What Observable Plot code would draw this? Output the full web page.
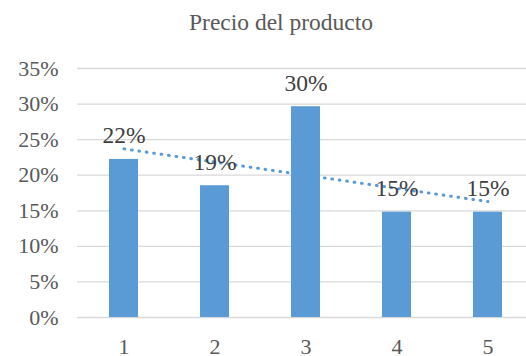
<!DOCTYPE html>
<html>
<head>
<meta charset="utf-8">
<script src="https://cdn.jsdelivr.net/npm/d3@7"></script>
<script src="https://cdn.jsdelivr.net/npm/@observablehq/plot@0.6"></script>
<style>
  html, body { margin: 0; padding: 0; background: #fff; overflow: hidden; }
  #chart svg { display: block; }
  #chart svg, #chart svg text { font-family: "Liberation Serif", "Times New Roman", serif; }
</style>
</head>
<body>
<div id="chart"></div>
<script>
// Product price share by period
const categories = ["1", "2", "3", "4", "5"];
const shares = [0.2222, 0.1852, 0.2963, 0.1481, 0.1481];
const yTicks = [0, 0.05, 0.10, 0.15, 0.20, 0.25, 0.30, 0.35];
const titleText = "Precio del producto";

const data = categories.map((c, i) => ({cat: c, value: shares[i]}));

// Linear trendline (least squares over the period index)
const xs = categories.map((_, i) => i + 1);
const mx = d3.mean(xs), my = d3.mean(shares);
const slope = d3.sum(xs, (x, i) => (x - mx) * (shares[i] - my)) / d3.sum(xs, x => (x - mx) ** 2);
const trend = categories.map((c, i) => ({cat: c, y: my + slope * (xs[i] - mx)}));

const pct = d3.format(".0%");
const blue = "#5b9bd5";
const serif = "Liberation Serif, Times New Roman, serif";

const chart = Plot.plot({
  width: 526,
  height: 356,
  marginLeft: 77,
  marginRight: 0,
  marginTop: 68,
  marginBottom: 39,
  style: {fontFamily: serif, fontSize: "22px", color: "#595959", background: "#fff", overflow: "hidden"},
  x: {domain: categories, range: [77, 534.5], paddingInner: 0.683, paddingOuter: 0.3415, align: 0.5},
  y: {domain: [0, 0.35]},
  marks: [
    Plot.gridY(yTicks, {stroke: "#d9d9d9", strokeOpacity: 1, strokeWidth: 1.3}),
    Plot.axisY({ticks: yTicks, tickFormat: pct, tickSize: 0, tickPadding: 19, label: null, fontSize: 22, fill: "#595959"}),
    Plot.axisX({tickSize: 0, tickPadding: 21, label: null, fontSize: 22, fill: "#595959"}),
    Plot.barY(data, {x: "cat", y: "value", fill: blue}),
    Plot.line(trend, {x: "cat", y: "y", stroke: blue, strokeWidth: 3, strokeDasharray: "0.75,6.75", strokeLinecap: "round"}),
    Plot.text(data, {x: "cat", y: "value", text: d => pct(d.value), dy: -16, lineAnchor: "bottom", fontSize: 23.5, fill: "#404040"})
  ]
});

const svg = d3.select(chart).attr("font-family", serif).style("font-family", serif);

svg.append("text")
  .attr("x", 281)
  .attr("y", 30)
  .attr("text-anchor", "middle")
  .attr("font-family", serif)
  .attr("font-size", 23.5)
  .attr("fill", "#595959")
  .text(titleText);

document.getElementById("chart").appendChild(chart);
</script>
</body>
</html>
